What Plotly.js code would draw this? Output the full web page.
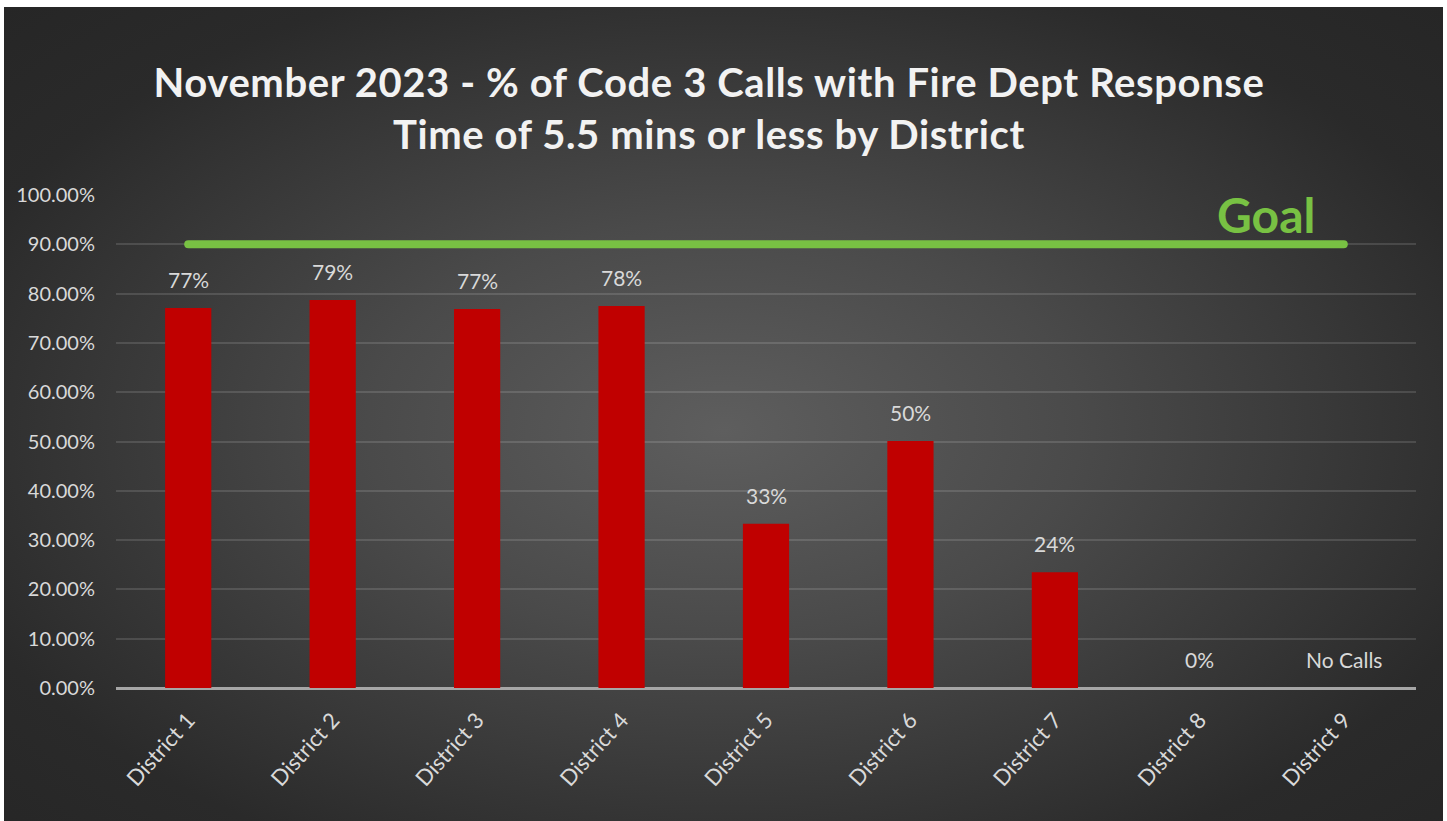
<!DOCTYPE html>
<html>
<head>
<meta charset="utf-8">
<script src="https://cdn.plot.ly/plotly-3.0.1.min.js"></script>
<style>
  html, body { margin: 0; padding: 0; background: #ffffff; }
  #bg { position: absolute; left: 4px; top: 7px; width: 1439px; height: 814px;
        background: radial-gradient(ellipse farthest-corner at 50% 52%, #5e5e5e 0%, #4a4a4a 35%, #2a2a2a 80%, #262626 100%); }
  #chart { position: absolute; left: 0; top: 0; width: 1447px; height: 821px; }
  .gtitle { letter-spacing: 0.6px; }
  .scatterlayer path.js-line { stroke-linecap: round !important; }
</style>
</head>
<body>
<div id="bg"></div>
<div id="chart"></div>
<script>
const districts = ["District 1","District 2","District 3","District 4","District 5","District 6","District 7","District 8","District 9"];
const pctValues = [0.771, 0.787, 0.769, 0.775, 0.333, 0.501, 0.235, 0, null];
const barLabels = ["77%","79%","77%","78%","33%","50%","24%","0%","No Calls"];
const goalValue = 0.9;
const yTickVals = [0,0.1,0.2,0.3,0.4,0.5,0.6,0.7,0.8,0.9,1.0];
const yTickText = ["0.00%","10.00%","20.00%","30.00%","40.00%","50.00%","60.00%","70.00%","80.00%","90.00%","100.00%"];

const traces = [
  {
    type: "bar", x: districts, y: pctValues,
    marker: {color: "#c00000"},
    hoverinfo: "x+y", showlegend: false
  },
  {
    type: "scatter", mode: "lines", x: districts, y: districts.map(() => goalValue),
    line: {color: "#78c143", width: 8}, showlegend: false, hoverinfo: "skip"
  }
];

const annotations = districts.map((d, i) => ({
  x: d, y: pctValues[i] === null ? 0 : pctValues[i],
  text: barLabels[i], showarrow: false, yanchor: "bottom", yshift: 14,
  font: {family: "Lato, sans-serif", size: 21, color: "#d9d9d9"}
}));
annotations.push({
  x: 7.46, y: 0.96, xref: "x", yref: "y", text: "<b>Goal</b>", showarrow: false,
  font: {family: "Lato, sans-serif", size: 48, color: "#78c143"}
});

const layout = {
  width: 1447, height: 821,
  paper_bgcolor: "rgba(0,0,0,0)", plot_bgcolor: "rgba(0,0,0,0)",
  margin: {l: 116, r: 31, t: 195, b: 133},
  title: {
    text: "<b>November 2023 - % of Code 3 Calls with Fire Dept Response<br>Time of 5.5 mins or less by District</b>",
    font: {family: "Lato, sans-serif", size: 40, color: "#f2f2f2"},
    x: 0.49, xanchor: "center", y: 0.882, yanchor: "top"
  },
  bargap: 0.68,
  xaxis: {
    type: "category", tickangle: -48, showgrid: false, zeroline: false,
    showline: false, ticks: "", ticklabelstandoff: 14,
    tickfont: {family: "Lato, sans-serif", size: 22, color: "#d9d9d9"}
  },
  yaxis: {
    range: [0, 1.0], tickvals: yTickVals, ticktext: yTickText,
    showgrid: true, gridcolor: "rgba(255,255,255,0.13)", gridwidth: 2,
    zeroline: true, zerolinecolor: "#a6a6a6", zerolinewidth: 3,
    showline: false, ticks: "", ticklabelstandoff: 20,
    tickfont: {family: "Lato, sans-serif", size: 20, color: "#d9d9d9"}
  },
  annotations: annotations
};

Plotly.newPlot("chart", traces, layout, {displayModeBar: false, responsive: false});
</script>
</body>
</html>
